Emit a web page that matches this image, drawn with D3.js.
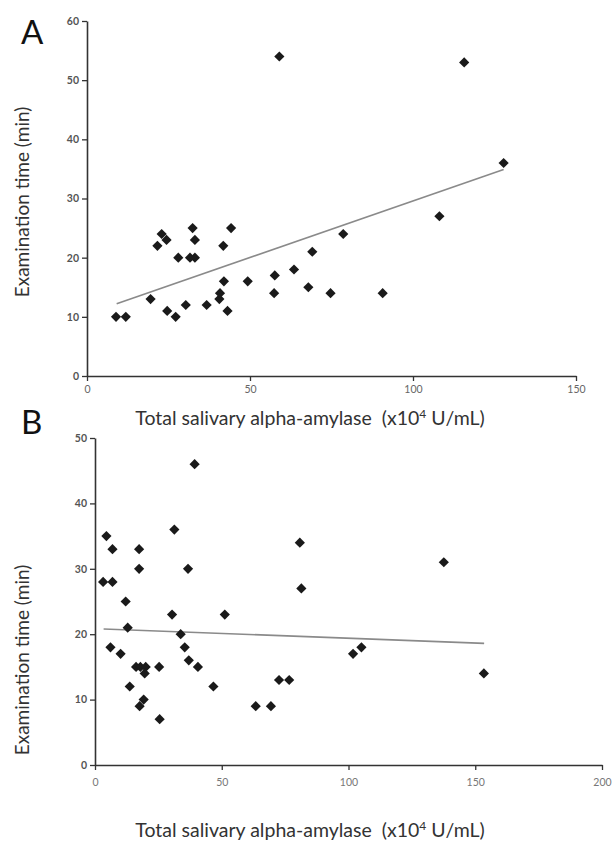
<!DOCTYPE html>
<html>
<head>
<meta charset="utf-8">
<script src="https://cdn.jsdelivr.net/npm/d3@7"></script>
<style>
  body { margin: 0; background: #fff; }
  text { font-family: Lato, "Open Sans", sans-serif; }
</style>
</head>
<body>
<div id="container"></div>
<script>
const w = 616;
const h = 846;

// panel A: total amylase vs examination time
const amylaseA = [8.9, 11.9, 19.5, 21.6, 22.9, 24.4, 24.6, 27.2, 28.0, 30.3, 32.4, 31.6, 33.1, 33.1,
  36.7, 40.6, 40.8, 41.8, 42.0, 43.1, 44.2, 49.3, 57.4, 57.6, 59.0, 63.5, 67.9, 69.1, 74.7, 78.6,
  90.7, 108.1, 115.7, 127.8];
const timeA = [10, 10, 13, 22, 24, 23, 11, 10, 20, 12, 25, 20, 20, 23,
  12, 13, 14, 22, 16, 11, 25, 16, 14, 17, 54, 18, 15, 21, 14, 24,
  14, 27, 53, 36];
const trendA = [[9.1, 12.2], [127.8, 34.9]];

// panel B
const amylaseB = [39.3, 4.5, 6.9, 17.4, 17.4, 31.3, 36.7, 80.8, 3.2, 6.9, 137.6, 81.4, 12.1, 12.9,
  6.1, 10.1, 16.2, 17.9, 20.0, 19.6, 13.7, 19.2, 17.6, 25.5, 25.3, 30.4, 33.8, 35.4, 37.0, 40.6,
  46.7, 51.2, 63.4, 69.4, 72.6, 76.6, 101.8, 105.1, 153.4];
const timeB = [46, 35, 33, 33, 30, 36, 30, 34, 28, 28, 31, 27, 25, 21,
  18, 17, 15, 15, 15, 14, 12, 10, 9, 7, 15, 23, 20, 18, 16, 15,
  12, 23, 9, 9, 13, 13, 17, 18, 14];
const trendB = [[3.4, 20.8], [153.5, 18.6]];

const xTicksA = [0, 50, 100, 150];
const yTicksA = [0, 10, 20, 30, 40, 50, 60];
const xTicksB = [0, 50, 100, 150, 200];
const yTicksB = [0, 10, 20, 30, 40, 50];

const svg = d3.select('#container')
  .append('svg')
  .attr('width', w)
  .attr('height', h)
  .attr('viewBox', [0, 0, w, h]);

function panel(opts) {
  const x = d3.scaleLinear()
    .domain(opts.xDomain)
    .range([opts.left, opts.right]);
  const y = d3.scaleLinear()
    .domain(opts.yDomain)
    .range([opts.bottom, opts.top]);

  const g = svg.append('g');

  const xAxis = d3.axisBottom(x)
    .tickValues(opts.xTicks)
    .tickSize(5)
    .tickSizeOuter(0)
    .tickPadding(opts.xPad);
  const yAxis = d3.axisLeft(y)
    .tickValues(opts.yTicks)
    .tickSize(5)
    .tickSizeOuter(0)
    .tickPadding(3);

  g.append('g')
    .attr('transform', 'translate(0,' + opts.bottom + ')')
    .call(xAxis)
    .call(a => a.select('.domain').attr('stroke', '#333').attr('stroke-width', 1.6))
    .call(a => a.selectAll('.tick line').attr('stroke', '#333').attr('stroke-width', 1.3))
    .call(a => a.selectAll('.tick text')
      .attr('fill', opts.xTickColor)
      .attr('font-size', 10.5));

  g.append('g')
    .attr('transform', 'translate(' + opts.left + ',0)')
    .call(yAxis)
    .call(a => a.select('.domain').attr('stroke', '#333').attr('stroke-width', 1.6))
    .call(a => a.selectAll('.tick line').attr('stroke', '#333').attr('stroke-width', 1.3))
    .call(a => a.selectAll('.tick text')
      .attr('fill', '#555')
      .attr('font-size', 10.5)
      .attr('font-weight', 'bold'));

  g.append('line')
    .attr('x1', x(opts.trend[0][0]))
    .attr('y1', y(opts.trend[0][1]))
    .attr('x2', x(opts.trend[1][0]))
    .attr('y2', y(opts.trend[1][1]))
    .attr('stroke', '#8a8a8a')
    .attr('stroke-width', 1.6);

  const sym = d3.symbol().type(d3.symbolSquare).size(52);
  g.selectAll('path.pt')
    .data(d3.zip(opts.xs, opts.ys))
    .enter()
    .append('path')
    .attr('class', 'pt')
    .attr('d', sym)
    .attr('fill', '#1a1a1a')
    .attr('transform', d => 'translate(' + x(d[0]) + ',' + y(d[1]) + ') rotate(45)');

  // panel letter
  svg.append('text')
    .attr('x', 21)
    .attr('y', opts.letterY)
    .attr('font-size', 33)
    .attr('fill', '#111')
    .text(opts.letter);

  // y label
  svg.append('text')
    .attr('transform', 'translate(29,' + opts.yLabelY + ') rotate(-90)')
    .attr('text-anchor', 'middle')
    .attr('font-size', 19)
    .attr('fill', '#333')
    .text('Examination time (min)');

  // x label
  const xl = svg.append('text')
    .attr('x', 310)
    .attr('y', opts.xLabelY)
    .attr('text-anchor', 'middle')
    .attr('font-size', 19.5)
    .attr('fill', '#333');
  xl.append('tspan').text('Total salivary alpha-amylase\u00a0 (x10');
  xl.append('tspan').attr('font-size', 12).attr('dy', -7).text('4');
  xl.append('tspan').attr('dy', 7).text(' U/mL)');
}

panel({
  xs: amylaseA, ys: timeA, trend: trendA,
  xDomain: [0, 150], yDomain: [0, 60],
  xTicks: xTicksA, yTicks: yTicksA,
  left: 87, right: 576, top: 21, bottom: 376,
  xPad: 5, xTickColor: '#666',
  letter: 'A', letterY: 44, yLabelY: 202, xLabelY: 425
});

panel({
  xs: amylaseB, ys: timeB, trend: trendB,
  xDomain: [0, 200], yDomain: [0, 50],
  xTicks: xTicksB, yTicks: yTicksB,
  left: 95, right: 602, top: 438, bottom: 765,
  xPad: 9, xTickColor: '#777',
  letter: 'B', letterY: 434, yLabelY: 660, xLabelY: 837
});
</script>
</body>
</html>
